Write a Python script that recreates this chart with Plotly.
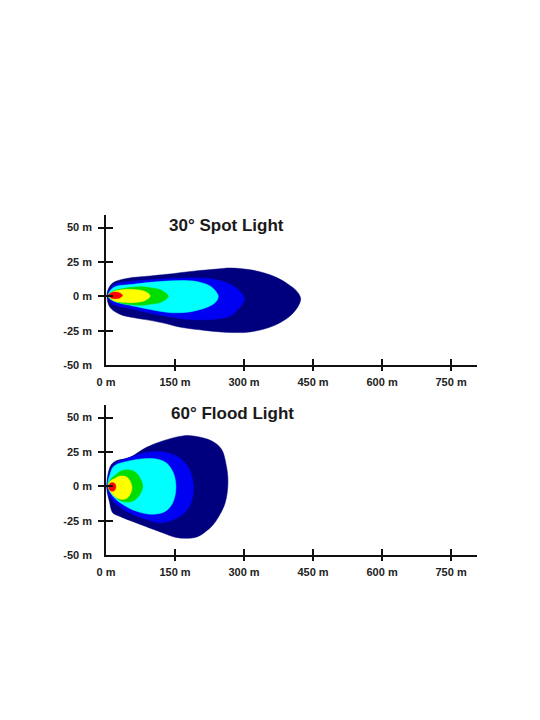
import plotly.graph_objects as go

# ---------------- data (metres) ----------------
X_TICKS = [0, 150, 300, 450, 600, 750]
X_TICK_TEXT = ["0 m", "150 m", "300 m", "450 m", "600 m", "750 m"]
Y_TICKS = [-50, -25, 0, 25, 50]
Y_TICK_TEXT = ["-50 m", "-25 m", "0 m", "25 m", "50 m"]
X_MARKS = [150, 300, 450, 600, 750]
Y_MARKS = [-25, 0, 25, 50]

TITLES = ["30° Spot Light", "60° Flood Light"]
ZONE_COLORS = ["#00007F", "#0000F2", "#00FFFF", "#00DD00", "#FFFF00", "#FF0000"]

# 30° spot light isolux outlines (x distance, y lateral)
SPOT_NAVY = [(2, 0), (6, 6), (16, 10), (45, 13), (96, 14.8), (132, 16), (190, 18.3), (240, 19.8),
             (270, 20.6), (310, 19.5), (342, 17.2), (370, 13.8), (395, 9), (414, 3.9),
             (423, -1.5), (418, -7), (400, -14.3), (364, -21.5), (313, -25.9), (270, -26.3),
             (215, -24.8), (157, -22.2), (132, -20), (96, -17.5), (59, -15.5), (30, -13),
             (9, -8.2)]
SPOT_BLUE = [(4, 0), (16, 8), (59, 11), (132, 12.8), (204, 13.3), (240, 12), (270, 8.7), (290, 4),
             (301, -2), (291, -8), (270, -14.3), (240, -16.5), (190, -17), (132, -14.5),
             (59, -9.4), (16, -5.8)]
SPOT_CYAN = [(4, 0), (16, 6.3), (59, 8.7), (132, 11.1), (190, 11.1), (226, 7.5), (240, 3),
             (244, 0), (240, -3.5), (226, -7), (190, -10.8), (155, -12), (132, -11.6),
             (59, -7), (16, -3.4)]
SPOT_GREEN = [(5, 0), (16, 3.8), (40, 5.8), (74, 7), (96, 6.3), (120, 4.5), (135.5, 0),
              (120, -4.2), (96, -5.8), (74, -6.5), (40, -5.5), (16, -3)]
SPOT_YELLOW = [(6, 0.3), (16, 3.5), (30, 4.6), (59, 5), (85, 3.5), (96, 0.3), (85, -3),
               (59, -4.6), (30, -4.2), (16, -3)]
SPOT_RED = [(5, 0.7), (10, 2.3), (20, 3.1), (30, 2.5), (36, 0.7), (30, -1.2), (20, -1.7),
            (10, -1)]

# 60° flood light isolux outlines
FLOOD_NAVY = [(1.5, 0), (3, 6), (6, 11.2), (12, 16), (21.7, 18.5), (50.7, 20.9), (87, 28.2),
              (123, 33), (167, 36.7), (193, 36.5), (230, 33), (251, 27), (262, 14), (265, 2),
              (259, -12), (245, -22), (230, -29), (200, -36.5), (181, -37.8), (150, -37),
              (123, -33.8), (65, -26.5), (29, -21.7), (14.5, -19.2), (7.2, -10.7), (3, -5)]
FLOOD_BLUE = [(3, 0), (8, 11), (21.7, 17), (50.7, 21), (87, 24.6), (123, 25), (159, 20.9),
              (181, 12.4), (190, 0), (185, -11.9), (167, -20.4), (123, -26.5), (87, -24),
              (50.7, -19.2), (21.7, -13.1), (6, -6)]
FLOOD_CYAN = [(4, 0), (9, 9), (18, 14.8), (50.7, 18.5), (101.5, 20.2), (130, 17.3), (146, 10),
              (152, -1), (145, -11.9), (130, -18), (101.5, -20.4), (65, -18), (36, -13.1),
              (14.5, -7)]
FLOOD_GREEN = [(5, 0), (10, 5), (18, 7.5), (32.6, 11.2), (50.7, 11.9), (65, 10), (80, 0),
               (65, -9.5), (50.7, -11.4), (32.6, -10.7), (18, -7), (10, -4)]
FLOOD_YELLOW = [(5, 0), (10, 4), (18, 5.5), (32.6, 7.5), (47, 6.3), (56.5, -1), (47, -8.3),
                (32.6, -9.5), (18, -7), (10, -4)]
FLOOD_RED = [(5.7, -0.4), (8, 1.8), (13.7, 2.7), (19.4, 1.8), (21.7, -0.4), (19.4, -2.6),
             (13.7, -3.5), (8, -2.6)]

SPOT_ZONES = [SPOT_NAVY, SPOT_BLUE, SPOT_CYAN, SPOT_GREEN, SPOT_YELLOW, SPOT_RED]
FLOOD_ZONES = [FLOOD_NAVY, FLOOD_BLUE, FLOOD_CYAN, FLOOD_GREEN, FLOOD_YELLOW, FLOOD_RED]

# ---------------- layout geometry ----------------
PAGE_OFF = 8             # default body margin of the html page
W, H = 540 - PAGE_OFF, 720 - PAGE_OFF
X_RANGE = [0, 807]
Y_RANGE = [-50, 59.2]
X_DOMAIN = [(106 - PAGE_OFF) / W, (477.3 - PAGE_OFF) / W]
PANELS = [  # (top px, bottom px) in page pixels
    (215, 365),
    (405, 555),
]
TITLE_POS = [(226.7, 225), (232, 413.3)]

FONT = "Liberation Sans, Arial, sans-serif"
AX_COLOR = "#111111"
LBL_COLOR = "#222222"

fig = go.Figure()

layout = dict(
    width=W, height=H, margin=dict(l=0, r=0, t=0, b=0, autoexpand=False),
    paper_bgcolor="white", plot_bgcolor="rgba(0,0,0,0)", showlegend=False,
    font=dict(family=FONT, color=LBL_COLOR),
)


def ax(i):
    return "" if i == 1 else str(i)


next_id = 1
for p, zones in enumerate([SPOT_ZONES, FLOOD_ZONES]):
    top, bot = PANELS[p]
    ydom = [(H - (bot - PAGE_OFF)) / H, (H - (top - PAGE_OFF)) / H]
    xi, yi = next_id, next_id
    xo, yo = next_id + 1, next_id + 1
    xn, yn = next_id + 2, next_id + 2
    next_id += 3

    for zone, col in zip(zones, ZONE_COLORS):
        xs = [pt[0] for pt in zone] + [zone[0][0]]
        ys = [pt[1] for pt in zone] + [zone[0][1]]
        fig.add_trace(go.Scatter(
            x=xs, y=ys, mode="lines", fill="toself", fillcolor=col,
            line=dict(color=col, width=0.5, shape="spline", smoothing=1.0),
            hoverinfo="skip", xaxis="x" + ax(xi), yaxis="y" + ax(yi),
        ))

    # main axes: line + labels
    layout["xaxis" + ax(xi)] = dict(
        domain=X_DOMAIN, range=X_RANGE, anchor="y" + ax(yi), automargin=False,
        tickvals=X_TICKS, ticktext=X_TICK_TEXT, ticks="", showgrid=False, zeroline=False,
        showline=True, linecolor=AX_COLOR, linewidth=1.5,
        tickfont=dict(family=FONT, size=11, color=LBL_COLOR, weight="bold"),
        ticklabelstandoff=6, fixedrange=True,
    )
    layout["yaxis" + ax(yi)] = dict(
        domain=ydom, range=Y_RANGE, anchor="x" + ax(xi), automargin=False,
        tickvals=Y_TICKS, ticktext=Y_TICK_TEXT, ticks="", showgrid=False, zeroline=False,
        showline=True, linecolor=AX_COLOR, linewidth=1.5,
        tickfont=dict(family=FONT, size=11, color=LBL_COLOR, weight="bold"),
        ticklabelstandoff=10, fixedrange=True,
    )
    # tick marks crossing the axis: outside part + inside part
    for idx, side in [(xo, "outside"), (xn, "inside")]:
        layout["xaxis" + ax(idx)] = dict(
            overlaying="x" + ax(xi), anchor="y" + ax(yi), range=X_RANGE, automargin=False,
            tickvals=X_MARKS, ticks=side, ticklen=5 if side == "outside" else 6,
            tickwidth=1.5, tickcolor=AX_COLOR, showticklabels=False,
            showgrid=False, zeroline=False, showline=False, fixedrange=True,
        )
    for idx, side in [(yo, "outside"), (yn, "inside")]:
        layout["yaxis" + ax(idx)] = dict(
            overlaying="y" + ax(yi), anchor="x" + ax(xi), range=Y_RANGE, automargin=False,
            tickvals=Y_MARKS, ticks=side, ticklen=7,
            tickwidth=1.5, tickcolor=AX_COLOR, showticklabels=False,
            showgrid=False, zeroline=False, showline=False, fixedrange=True,
        )
    # empty traces so the overlay axes are drawn
    for idx in (xo, xn):
        fig.add_trace(go.Scatter(x=[], y=[], xaxis="x" + ax(idx), yaxis="y" + ax(yi),
                                 hoverinfo="skip"))
    for idx in (yo, yn):
        fig.add_trace(go.Scatter(x=[], y=[], xaxis="x" + ax(xi), yaxis="y" + ax(idx),
                                 hoverinfo="skip"))

annotations = []
for t, (px, py) in zip(TITLES, TITLE_POS):
    annotations.append(dict(
        text=t, x=(px - PAGE_OFF) / W, y=(H - (py - PAGE_OFF)) / H,
        xref="paper", yref="paper",
        xanchor="center", yanchor="middle", showarrow=False,
        font=dict(family=FONT, size=17, color="#1a1a1a", weight="bold"),
    ))
layout["annotations"] = annotations

fig.update_layout(**layout)
fig.write_html("out.html")
